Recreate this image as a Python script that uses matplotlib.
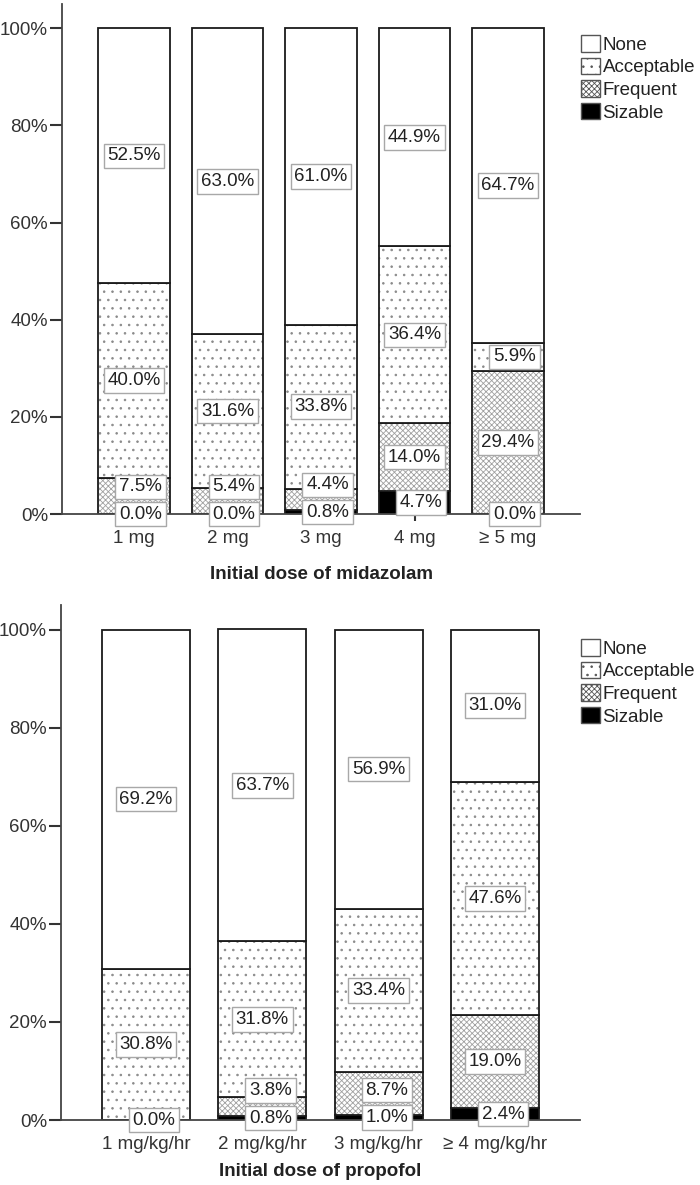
import numpy as np
import matplotlib.pyplot as plt
from matplotlib.patches import Patch

plt.rcParams['font.family'] = ['Liberation Sans', 'DejaVu Sans']

categories = ['None', 'Acceptable', 'Frequent', 'Sizable']

mida_doses = ['1 mg', '2 mg', '3 mg', '4 mg', '\u2265 5 mg']
mida_none = [52.5, 63.0, 61.0, 44.9, 64.7]
mida_acceptable = [40.0, 31.6, 33.8, 36.4, 5.9]
mida_frequent = [7.5, 5.4, 4.4, 14.0, 29.4]
mida_sizable = [0.0, 0.0, 0.8, 4.7, 0.0]

prop_doses = ['1 mg/kg/hr', '2 mg/kg/hr', '3 mg/kg/hr', '\u2265 4 mg/kg/hr']
prop_none = [69.2, 63.7, 56.9, 31.0]
prop_acceptable = [30.8, 31.8, 33.4, 47.6]
prop_frequent = [0.0, 3.8, 8.7, 19.0]
prop_sizable = [0.0, 0.8, 1.0, 2.4]

# fill styles; hatch colour comes from the (zero width) edge colour
styles = {
    'Sizable': dict(color='black', hatch=None, hc='black'),
    'Frequent': dict(color='white', hatch='xxxxxx', hc='#a0a0a0'),
    'Acceptable': dict(color='white', hatch='..', hc='#8a8a8a'),
    'None': dict(color='white', hatch=None, hc='white'),
}
plt.rcParams['hatch.linewidth'] = 0.6

fig = plt.figure(figsize=(7, 11.85), dpi=100)


def draw_panel(ax, doses, series, xlabel, xpad, width, labelpad):
    x = np.arange(len(doses))
    bottom = np.zeros(len(doses))
    order = ['Sizable', 'Frequent', 'Acceptable', 'None']
    label_pos = [[] for _ in doses]
    for name in order:
        vals = np.array(series[name])
        st = styles[name]
        ax.bar(x, vals, width, bottom=bottom, color=st['color'],
               hatch=st['hatch'], edgecolor=st['hc'], linewidth=0)
        ax.bar(x, vals, width, bottom=bottom, facecolor='none',
               edgecolor='#1a1a1a', linewidth=1.3)
        for i, v in enumerate(vals):
            if v == 0 and name != 'Sizable':
                continue
            label_pos[i].append((bottom[i] + v / 2, v))
        bottom = bottom + vals

    # simple spacing so small labels do not overlap
    for i, labs in enumerate(label_pos):
        prev = -10
        for yc, v in labs:
            y = max(yc, prev + 5.6)
            prev = y
            dx = 0.07 if v < 10 else 0.0
            ax.text(x[i] + dx, y, f'{v:.1f}%', ha='center', va='center',
                    fontsize=13.5, color='#222222', clip_on=False, zorder=5,
                    bbox=dict(boxstyle='square,pad=0.2', facecolor='white',
                              edgecolor='#a8a8a8', linewidth=1))

    ax.set_xlim(-xpad, len(doses) - 1 + xpad)
    ax.set_ylim(0, 105)
    ax.set_yticks(np.arange(0, 101, 20))
    ax.set_yticklabels([f'{t}%' for t in range(0, 101, 20)])
    ax.set_xticks(x)
    ax.set_xticklabels(doses)
    ax.tick_params(axis='y', length=9, width=1.5, labelsize=13.5,
                   colors='#333333', pad=1)
    ax.tick_params(axis='x', length=5, width=1.5, labelsize=13.5,
                   colors='#333333', pad=6.5)
    for s in ['top', 'right']:
        ax.spines[s].set_visible(False)
    for s in ['left', 'bottom']:
        ax.spines[s].set_linewidth(1.3)
        ax.spines[s].set_color('#444444')
    ax.set_xlabel(xlabel, fontsize=13.5, fontweight='bold',
                  labelpad=labelpad, color='#222222')


handles = [Patch(facecolor=styles[c]['color'], hatch=styles[c]['hatch'],
                 edgecolor='#555555', linewidth=1) for c in categories]

ax1 = fig.add_axes([62 / 700, 0.5662, 518 / 700, 0.4304])
draw_panel(ax1, mida_doses,
           {'None': mida_none, 'Acceptable': mida_acceptable,
            'Frequent': mida_frequent, 'Sizable': mida_sizable},
           'Initial dose of midazolam', 0.77, 0.76, 14)

ax2 = fig.add_axes([61 / 700, 0.05485, 519 / 700, 0.4346])
draw_panel(ax2, prop_doses,
           {'None': prop_none, 'Acceptable': prop_acceptable,
            'Frequent': prop_frequent, 'Sizable': prop_sizable},
           'Initial dose of propofol', 0.73, 0.757, 7)

for top in [1 - 35 / 1185, 1 - 639 / 1185]:
    fig.legend(handles, categories, loc='upper left',
               bbox_to_anchor=(581 / 700, top), frameon=False, fontsize=13.5,
               handlelength=1.0, handleheight=1.0, handletextpad=0.15,
               labelspacing=0.2, borderpad=0, borderaxespad=0,
               labelcolor='#222222')

fig.savefig('out.png', dpi=100)
